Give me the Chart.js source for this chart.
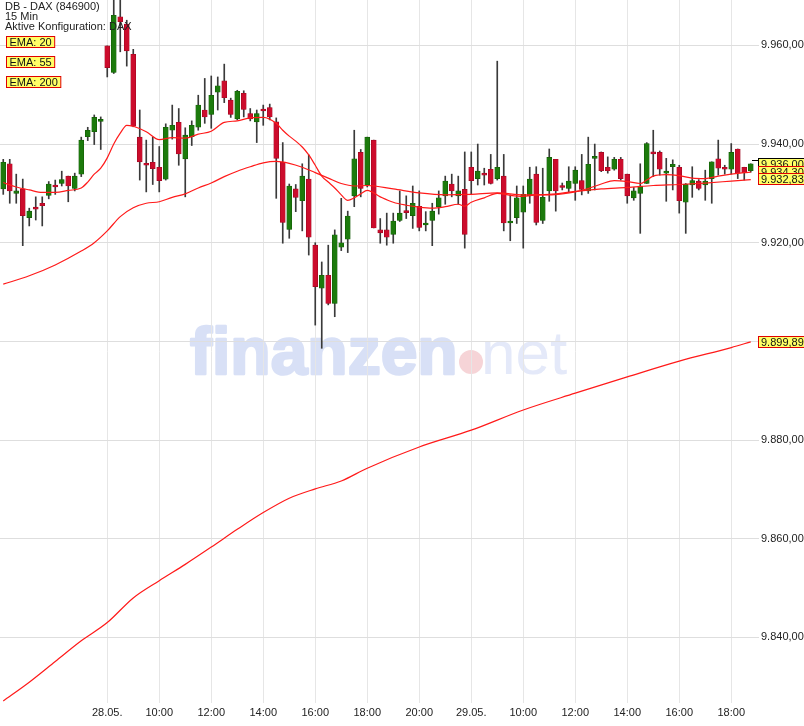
<!DOCTYPE html>
<html><head><meta charset="utf-8">
<script src="https://cdn.jsdelivr.net/npm/chart.js@4/dist/chart.umd.min.js"></script>
<style>html,body{margin:0;padding:0;background:#fff}#wrap{width:804px;height:726px;position:relative}</style>
</head><body><div id="wrap"><canvas id="c"></canvas></div>
<script>
// ---- categories (15-min candles) ----
const sessions = [
  {day: '27.05.', start: '18:00', count: 16},
  {day: '28.05.', start: '08:00', count: 56},
  {day: '29.05.', start: '08:00', count: 44}
];
const xTickKeys = ['28.05. 08:00','28.05. 10:00','28.05. 12:00','28.05. 14:00','28.05. 16:00','28.05. 18:00','28.05. 20:00','29.05. 08:00','29.05. 10:00','29.05. 12:00','29.05. 14:00','29.05. 16:00','29.05. 18:00'];
const xTickText = ['28.05.','10:00','12:00','14:00','16:00','18:00','20:00','29.05.','10:00','12:00','14:00','16:00','18:00'];
const yTicks = [9840, 9860, 9880, 9900, 9920, 9940, 9960];

// ---- OHLC series ----
const open = [9930.9,9936.0,9930.0,9930.9,9925.1,9927.0,9928.0,9929.6,9931.5,9932.0,9933.5,9931.0,9933.9,9941.5,9942.5,9944.6,
 9959.9,9954.5,9965.8,9964.3,9958.2,9941.4,9935.9,9936.3,9935.3,9932.9,9942.8,9944.4,9937.0,9941.5,9943.4,9946.9,9946.0,9950.5,9952.8,9948.9,9945.1,9950.3,9946.2,9944.5,9946.9,9947.4,9944.5,9936.3,9922.7,9930.9,9928.5,9932.9,9919.5,9910.8,9913.4,9907.7,9919.1,9920.7,9929.5,9938.3,9931.7,9940.8,9922.6,9922.6,9921.7,9924.5,9926.4,9925.5,9927.4,9923.6,9924.5,9927.3,9929.5,9931.9,9929.5,9930.8,
 9935.3,9933.0,9933.9,9934.9,9933.0,9933.5,9924.0,9925.1,9926.2,9929.5,9933.9,9924.5,9930.5,9936.9,9931.4,9931.0,9932.0,9932.6,9930.5,9937.1,9938.3,9935.3,9934.9,9936.9,9933.9,9929.1,9930.0,9932.0,9938.3,9938.3,9934.1,9935.4,9935.3,9928.2,9931.7,9932.5,9931.7,9933.0,9937.0,9935.3,9934.9,9939.0,9935.3,9934.6];
const high = [9936.9,9936.9,9933.9,9932.9,9927.0,9929.3,9929.3,9932.4,9932.7,9934.5,9933.5,9934.1,9941.4,9943.4,9945.9,9945.5,
 9959.9,9969.5,9969.5,9965.1,9959.2,9946.9,9940.8,9941.4,9939.5,9944.1,9947.9,9947.2,9943.3,9944.7,9949.9,9953.3,9953.8,9953.6,9956.2,9949.3,9950.9,9950.8,9947.2,9946.9,9947.9,9948.1,9945.3,9940.3,9931.9,9931.8,9936.0,9937.8,9920.0,9916.1,9919.5,9922.6,9929.0,9926.4,9942.8,9938.9,9941.4,9940.8,9924.9,9926.0,9926.0,9930.5,9929.5,9931.5,9930.5,9926.3,9928.0,9930.5,9933.5,9933.9,9933.5,9938.4,
 9938.4,9940.0,9935.1,9937.9,9956.8,9937.9,9929.7,9931.5,9931.5,9935.3,9935.4,9935.1,9939.0,9936.9,9932.1,9935.4,9935.4,9937.9,9941.4,9940.0,9938.4,9937.4,9937.3,9937.3,9933.9,9931.2,9936.0,9940.3,9942.8,9938.6,9937.1,9936.8,9935.7,9932.0,9935.4,9932.8,9934.7,9936.4,9940.8,9935.7,9940.1,9939.0,9935.3,9936.0];
const low = [9929.8,9928.0,9928.0,9919.4,9923.4,9924.6,9923.4,9928.9,9929.8,9931.5,9928.3,9930.5,9933.4,9940.7,9939.9,9938.9,
 9953.6,9954.3,9958.7,9955.8,9943.5,9932.7,9930.3,9931.8,9930.3,9932.7,9941.0,9935.7,9929.3,9939.7,9942.8,9944.2,9943.2,9946.9,9948.4,9945.4,9944.9,9945.5,9944.7,9940.3,9943.8,9944.9,9929.0,9919.9,9920.9,9926.3,9922.4,9917.5,9903.3,9898.6,9907.4,9905.0,9918.4,9918.0,9927.3,9929.3,9931.3,9923.0,9919.9,9919.5,9919.9,9924.3,9924.9,9922.9,9922.4,9922.4,9919.4,9925.8,9927.8,9929.3,9927.8,9918.9,
 9929.8,9931.7,9931.7,9931.9,9932.7,9922.4,9920.4,9923.9,9918.9,9928.0,9923.6,9923.9,9928.4,9926.4,9930.7,9930.3,9928.6,9929.7,9930.0,9930.7,9934.4,9934.1,9934.7,9932.7,9928.0,9928.6,9921.9,9932.0,9933.4,9933.7,9928.4,9930.7,9926.0,9921.9,9929.2,9930.7,9928.6,9928.0,9933.7,9933.9,9933.9,9933.0,9932.7,9934.3];
const close = [9936.3,9930.5,9930.5,9925.5,9926.4,9926.8,9927.5,9931.9,9931.3,9932.8,9931.5,9933.5,9940.8,9942.8,9945.4,9944.8,
 9955.5,9966.1,9964.8,9958.9,9943.6,9936.4,9935.7,9935.0,9932.6,9943.4,9943.8,9938.0,9941.8,9943.8,9947.9,9945.5,9949.9,9951.8,9949.4,9946.0,9950.7,9947.0,9945.1,9946.2,9946.7,9945.5,9937.1,9924.1,9931.5,9929.2,9933.5,9921.1,9911.1,9913.4,9907.7,9921.6,9920.0,9925.4,9937.0,9931.0,9941.4,9923.0,9922.0,9921.1,9924.4,9926.0,9926.1,9928.0,9923.1,9924.0,9926.4,9929.1,9932.5,9930.5,9930.5,9921.7,
 9932.6,9934.5,9933.7,9932.0,9935.3,9924.0,9924.4,9929.1,9929.8,9932.9,9924.1,9929.2,9937.3,9930.5,9931.2,9932.5,9934.7,9930.8,9935.9,9937.3,9934.6,9934.6,9936.9,9933.0,9929.5,9930.5,9931.5,9940.1,9938.0,9934.9,9934.5,9935.9,9928.5,9931.9,9932.6,9931.0,9932.5,9936.4,9935.1,9934.9,9938.3,9934.1,9934.2,9936.0];

// ---- EMA lines: [candle index, value] ----
const ema20 = [[0,9932.2],[2,9931.3],[4,9930.7],[6,9930.2],[8,9930.2],[10,9930.6],[12,9931.1],[13,9932.3],[14,9933.9],[15,9935.1],[16,9937.2],[17,9940.0],[18,9942.2],[19,9943.8],[20,9943.6],[22,9942.5],[24,9940.9],[26,9941.3],[28,9941.2],[30,9942.0],[32,9942.6],[34,9944.4],[36,9944.7],[38,9945.3],[40,9945.4],[42,9944.2],[43,9942.8],[44,9941.6],[45,9940.6],[46,9939.4],[47,9937.8],[48,9935.7],[49,9933.5],[50,9932.3],[51,9931.1],[52,9929.7],[53,9928.6],[54,9929.1],[55,9929.9],[56,9930.6],[58,9929.3],[60,9928.2],[62,9927.6],[64,9927.2],[66,9927.0],[68,9927.3],[70,9927.8],[71,9927.4],[72,9928.2],[74,9929.1],[76,9930.0],[78,9929.6],[80,9929.4],[82,9929.7],[84,9929.7],[86,9929.9],[88,9930.3],[90,9931.0],[92,9931.9],[94,9932.6],[96,9932.4],[98,9932.0],[99,9932.7],[100,9933.5],[102,9933.8],[104,9933.6],[106,9933.1],[108,9933.0],[110,9933.5],[112,9933.9],[114,9934.2],[115,9934.3]];
const ema55 = [[0,9911.6],[4,9913.3],[8,9915.5],[12,9918.3],[14,9920.0],[16,9922.4],[18,9925.3],[20,9927.1],[22,9928.0],[24,9928.3],[26,9929.2],[28,9929.9],[30,9931.1],[32,9932.1],[34,9933.4],[36,9934.5],[38,9935.4],[40,9936.2],[42,9936.5],[44,9936.1],[46,9935.3],[48,9934.2],[50,9933.1],[52,9932.0],[54,9931.5],[56,9931.6],[60,9930.9],[64,9930.1],[68,9929.7],[72,9929.8],[76,9930.1],[80,9929.7],[84,9929.8],[88,9930.4],[92,9930.9],[96,9931.2],[100,9931.6],[104,9931.8],[108,9932.1],[112,9932.5],[115,9932.8]];
const ema200 = [[0,9827.1],[4,9830.9],[8,9835.1],[12,9839.3],[16,9843.0],[20,9848.0],[24,9851.5],[28,9854.8],[32,9858.3],[36,9861.9],[40,9865.3],[44,9868.2],[48,9870.1],[52,9871.7],[56,9874.3],[64,9878.6],[72,9882.0],[80,9886.1],[88,9889.5],[96,9892.8],[104,9896.0],[112,9898.75],[115,9899.9]];

// ---- right-side value boxes and legend ----
const lastValues = [9936.000, 9934.301, 9932.835, 9899.891];
const legendNames = ['EMA: 20', 'EMA: 55', 'EMA: 200'];
const titleLines = ['DB - DAX (846900)', '15 Min', 'Aktive Konfiguration: DAX'];

// build category labels
const labels = [];
sessions.forEach(s => {
  let [h, m] = s.start.split(':').map(Number);
  for (let k = 0; k < s.count; k++) {
    labels.push(s.day + ' ' + String(h).padStart(2,'0') + ':' + String(m).padStart(2,'0'));
    m += 15; if (m >= 60) { m -= 60; h += 1; }
  }
});
const tickMap = {};
xTickKeys.forEach((k, i) => tickMap[k] = xTickText[i]);

const GREEN = '#1c7a0c', GREEN_B = '#135a06', RED = '#cc0c2c', RED_B = '#9c0820';
const isUp = i => close[i] >= open[i];
const toPts = arr => arr.map(([i, v]) => ({x: labels[i], y: v}));
const fmt = v => {
  const s = v.toFixed(3).split('.');
  return s[0].replace(/\B(?=(\d{3})+(?!\d))/g, '.') + ',' + s[1];
};
const FONT = 'Liberation Sans, Arial, sans-serif';

const overlay = {
  id: 'overlay',
  beforeDraw(chart) {
    const ctx = chart.ctx;
    ctx.save();
    ctx.fillStyle = '#fff';
    ctx.fillRect(0, 0, chart.width, chart.height);
    // watermark
    ctx.textBaseline = 'alphabetic';
    ctx.fillStyle = '#d8e0f6';
    ctx.strokeStyle = '#d8e0f6';
    ctx.lineWidth = 2.5;
    ctx.lineJoin = 'round';
    ctx.font = 'bold 66px ' + FONT;
    ctx.fillText('finanzen', 190, 374);
    ctx.strokeText('finanzen', 190, 374);
    ctx.fillStyle = '#f6d4d7';
    ctx.beginPath(); ctx.arc(471, 362, 12, 0, Math.PI * 2); ctx.fill();
    ctx.fillStyle = '#e4e9f9';
    ctx.font = '62px ' + FONT;
    ctx.fillText('net', 481, 374);
    ctx.restore();
  },
  afterDraw(chart) {
    const ctx = chart.ctx, y = chart.scales.y;
    ctx.save();
    ctx.font = '11px ' + FONT;
    ctx.textBaseline = 'alphabetic';
    ctx.fillStyle = '#222';
    titleLines.forEach((t, i) => ctx.fillText(t, 5, 10 + i * 9.8));
    // legend boxes
    legendNames.forEach((t, i) => {
      const top = 36 + i * 20;
      const tw = ctx.measureText(t).width;
      ctx.fillStyle = '#ffff66';
      ctx.fillRect(6.5, top + 0.5, tw + 6, 11);
      ctx.strokeStyle = '#e00000'; ctx.lineWidth = 1;
      ctx.strokeRect(6.5, top + 0.5, tw + 6, 11);
      ctx.fillStyle = '#111';
      ctx.fillText(t, 9.5, top + 10);
    });
    // value boxes at right
    const last = chart.chartArea.right;
    ctx.strokeStyle = '#000';
    const ly = Math.round(y.getPixelForValue(lastValues[0])) - 3.5;
    ctx.beginPath(); ctx.moveTo(last - 2, ly); ctx.lineTo(last + 5, ly); ctx.stroke();
    lastValues.forEach((v, i) => {
      const cy = Math.round(y.getPixelForValue(v));
      const top = cy - 5.5;
      ctx.fillStyle = '#ffff66';
      ctx.fillRect(758.5, top, 60, 11);
      ctx.strokeStyle = i === 0 ? '#000' : '#e00000';
      ctx.lineWidth = 1;
      ctx.strokeRect(758.5, top, 60, 11);
      ctx.fillStyle = '#111';
      ctx.fillText(fmt(v), 761, top + 9.5);
    });
    ctx.restore();
  }
};

new Chart(document.getElementById('c'), {
  type: 'bar',
  data: {
    labels: labels,
    datasets: [
      {type: 'line', label: 'EMA 20', data: toPts(ema20), borderColor: '#ff1a1a', borderWidth: 1.2, pointRadius: 0, cubicInterpolationMode: 'monotone', order: 0},
      {type: 'line', label: 'EMA 55', data: toPts(ema55), borderColor: '#ff1a1a', borderWidth: 1.2, pointRadius: 0, cubicInterpolationMode: 'monotone', order: 0},
      {type: 'line', label: 'EMA 200', data: toPts(ema200), borderColor: '#ff1a1a', borderWidth: 1.2, pointRadius: 0, cubicInterpolationMode: 'monotone', order: 0},
      {label: 'body', data: open.map((o, i) => [o, close[i]]), grouped: false, barThickness: 5, minBarLength: 2,
        backgroundColor: c => isUp(c.dataIndex) ? GREEN : RED,
        borderColor: c => isUp(c.dataIndex) ? GREEN_B : RED_B,
        borderWidth: 0.6, borderSkipped: false, order: 1},
      {label: 'wick', data: low.map((l, i) => [l, high[i]]), grouped: false, barThickness: 1,
        backgroundColor: '#3a3a3a', borderWidth: 0, order: 2}
    ]
  },
  options: {
    responsive: true, maintainAspectRatio: false, animation: false,
    layout: {padding: 0},
    plugins: {legend: {display: false}, tooltip: {enabled: false}},
    scales: {
      x: {
        type: 'category', offset: true,
        grid: {offset: false, color: '#e6e6e6', drawTicks: false},
        border: {display: false},
        ticks: {autoSkip: false, maxRotation: 0, minRotation: 0, padding: 3, color: '#222', font: {family: FONT, size: 11},
          callback: (v, i) => tickMap[labels[i]] === undefined ? null : tickMap[labels[i]]},
        afterFit: s => { s.height = 23; s.paddingLeft = 0; s.paddingRight = 0; }
      },
      y: {
        position: 'right', min: 9826.7, max: 9969.2,
        grid: {color: '#dedede', tickLength: 5},
        border: {display: false},
        ticks: {padding: 2, color: '#222', font: {family: FONT, size: 11}, callback: v => fmt(v)},
        afterBuildTicks: s => { s.ticks = yTicks.map(v => ({value: v})); },
        afterFit: s => { s.width = 50; s.paddingTop = 0; s.paddingBottom = 0; }
      }
    }
  },
  plugins: [overlay]
});
</script></body></html>
